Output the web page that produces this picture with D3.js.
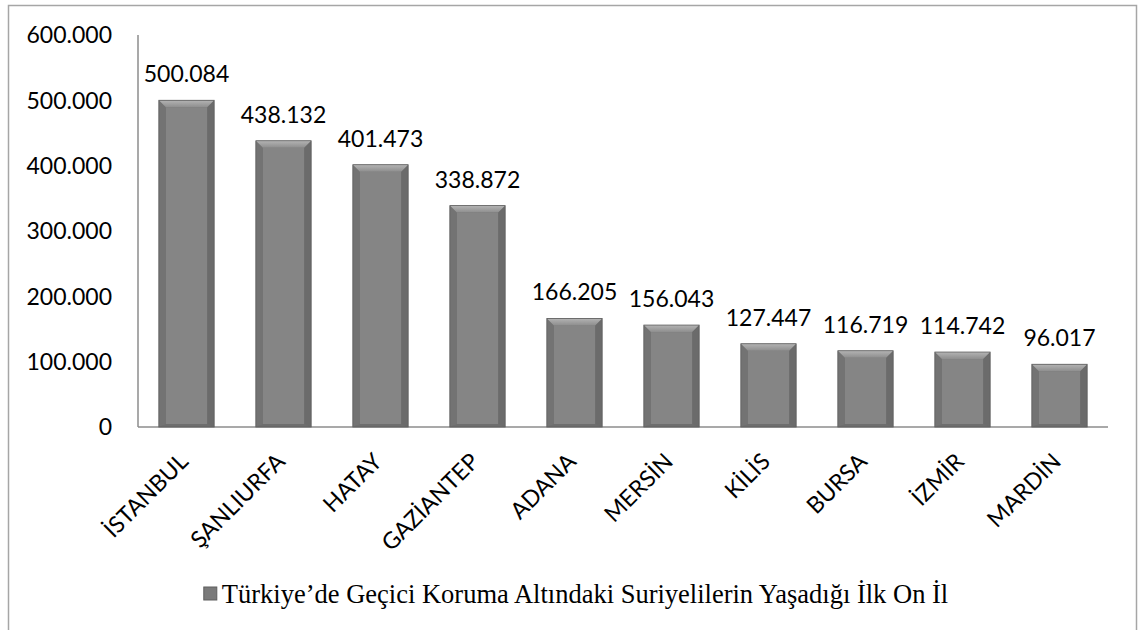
<!DOCTYPE html>
<html>
<head>
<meta charset="utf-8">
<script src="https://cdn.jsdelivr.net/npm/d3@7"></script>
<style>
  body { margin: 0; background: #fff; }
  svg { display: block; }
</style>
</head>
<body>
<svg width="1139" height="630"></svg>
<script>
// --- data ---
const cities = ["İSTANBUL", "ŞANLIURFA", "HATAY", "GAZİANTEP", "ADANA", "MERSİN", "KİLİS", "BURSA", "İZMİR", "MARDİN"];
const counts = [500084, 438132, 401473, 338872, 166205, 156043, 127447, 116719, 114742, 96017];
const yTicks = [0, 100000, 200000, 300000, 400000, 500000, 600000];
const seriesName = "Türkiye’de Geçici Koruma Altındaki Suriyelilerin Yaşadığı İlk On İl";

const svg = d3.select("svg");
const plotL = 138, plotR = 1108, plotT = 35, plotB = 427;
const fmt = v => d3.format(",")(v).replace(/,/g, ".");

// outer frame
svg.append("rect")
  .attr("x", 8.5).attr("y", 5.5).attr("width", 1128).attr("height", 660)
  .attr("fill", "none").attr("stroke", "#a6a6a6").attr("stroke-width", 1.5);

const x = d3.scaleBand().domain(cities).range([plotL, plotR]).paddingInner(0.43).paddingOuter(0.215);
const y = d3.scaleLinear().domain([0, 600000]).range([plotB, plotT]);

// y labels
svg.append("g").selectAll("text").data(yTicks).join("text")
  .attr("x", 112).attr("y", d => y(d)).attr("dy", "0.36em")
  .attr("text-anchor", "end")
  .style("font", "23px Lato").attr("fill", "#000")
  .text(d => fmt(d));

// axes lines
svg.append("line").attr("x1", plotL).attr("x2", plotL).attr("y1", plotT).attr("y2", plotB)
  .attr("stroke", "#8c8c8c").attr("stroke-width", 1.5);
svg.append("line").attr("x1", plotL).attr("x2", plotR).attr("y1", plotB).attr("y2", plotB)
  .attr("stroke", "#8c8c8c").attr("stroke-width", 1.5);

// bars with bevel
const defs = svg.append("defs");
const tg = defs.append("linearGradient").attr("id", "topb").attr("x1", 0).attr("x2", 0).attr("y1", 0).attr("y2", 1);
tg.append("stop").attr("offset", 0).attr("stop-color", "#b4b4b4");
tg.append("stop").attr("offset", 1).attr("stop-color", "#8e8e8e");

const bars = svg.append("g").selectAll("g").data(cities).join("g");
const bv = 7;
bars.each(function(c, i) {
  const g = d3.select(this);
  const x0 = x(c), w = x.bandwidth(), y0 = y(counts[i]), y1 = y(0);
  g.append("rect").attr("x", x0).attr("y", y0).attr("width", w).attr("height", y1 - y0).attr("fill", "#6e6e6e");
  g.append("polygon").attr("points", [[x0, y0], [x0 + bv, y0 + bv], [x0 + bv, y1 - 3], [x0, y1]].join(" "))
    .attr("fill", "#737373");
  g.append("polygon").attr("points", [[x0 + w, y0], [x0 + w - bv, y0 + bv], [x0 + w - bv, y1 - 3], [x0 + w, y1]].join(" "))
    .attr("fill", "#6b6b6b");
  g.append("rect").attr("x", x0 + bv).attr("y", y0 + bv).attr("width", w - 2 * bv).attr("height", y1 - y0 - bv - 3)
    .attr("fill", "#858585");
  g.append("polygon").attr("points", [[x0, y0], [x0 + w, y0], [x0 + w - bv, y0 + bv], [x0 + bv, y0 + bv]].join(" "))
    .attr("fill", "url(#topb)");
  g.append("rect").attr("x", x0).attr("y", y0).attr("width", w).attr("height", y1 - y0)
    .attr("fill", "none").attr("stroke", "#5e5e5e").attr("stroke-width", 0.8);
});

// value labels
svg.append("g").selectAll("text").data(cities).join("text")
  .attr("x", d => x(d) + x.bandwidth() / 2)
  .attr("y", (d, i) => y(counts[i]) - 18)
  .attr("text-anchor", "middle")
  .style("font", "23px Lato")
  .text((d, i) => fmt(counts[i]));

// category labels
svg.append("g").selectAll("text").data(cities).join("text")
  .attr("transform", d => `translate(${x(d) + x.bandwidth() / 2 + 3},${plotB + 36}) rotate(-45)`)
  .attr("text-anchor", "end")
  .style("font", "23px Lato")
  .text(d => d);

// legend
const lg = svg.append("g").attr("transform", "translate(585,603)");
const lt = lg.append("text").attr("text-anchor", "middle")
  .style("font", "26.5px 'Liberation Serif'").text(seriesName);
const tw = lt.node().getComputedTextLength();
lg.append("rect").attr("x", -tw / 2 - 18).attr("y", -16).attr("width", 13).attr("height", 13)
  .attr("fill", "#7a7a7a").attr("stroke", "#5e5e5e");
</script>
</body>
</html>
